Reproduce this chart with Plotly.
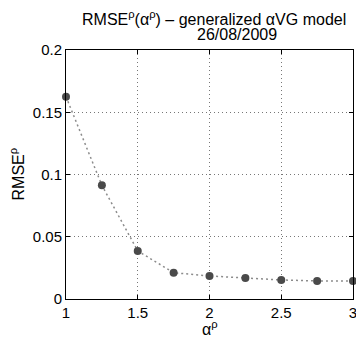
import plotly.graph_objects as go

alpha = [1.0, 1.25, 1.5, 1.75, 2.0, 2.25, 2.5, 2.75, 3.0]
rmse = [0.1625, 0.0913, 0.0386, 0.0211, 0.0185, 0.0169, 0.0153, 0.0145, 0.0144]
xticks = [1, 1.5, 2, 2.5, 3]
xtick_text = ["1", "1.5", "2", "2.5", "3"]
yticks = [0, 0.05, 0.1, 0.15, 0.2]
ytick_text = ["0", "0.05", "0.1", "0.15", "0.2"]
title_line1 = "RMSE<sup>ρ</sup>(α<sup>ρ</sup>) – generalized αVG model"
title_line2 = "26/08/2009"
xlabel = "α<sup>ρ</sup>"
ylabel = "RMSE<sup>ρ</sup>"

fig = go.Figure()
fig.add_trace(go.Scatter(
    x=alpha, y=rmse, mode="lines+markers",
    line=dict(color="#8c8c8c", width=1.5, dash="2px,3px"),
    marker=dict(color="#4a4a4a", size=8),
    showlegend=False, cliponaxis=False,
))

font = "Liberation Sans, Arial, sans-serif"
axis_common = dict(
    showline=True, linecolor="black", linewidth=1, mirror="ticks",
    ticks="inside", ticklen=4, tickcolor="black",
    showgrid=True, gridcolor="#777777", gridwidth=1, griddash="1px,3px",
    zeroline=False, tickfont=dict(family=font, size=15, color="black"),
)
fig.update_xaxes(range=[1, 3], tickvals=xticks, ticktext=xtick_text, **axis_common)
fig.update_yaxes(range=[0, 0.2], tickvals=yticks, ticktext=ytick_text, **axis_common)

tfont = dict(family=font, size=16, color="black")
fig.add_annotation(text=title_line1, xref="paper", yref="paper", x=0.514, y=1,
                   xanchor="center", yanchor="middle", yshift=32, showarrow=False, font=tfont)
fig.add_annotation(text=title_line2, xref="paper", yref="paper", x=0.5945, y=1,
                   xanchor="center", yanchor="middle", yshift=16, showarrow=False, font=tfont)
fig.add_annotation(text=ylabel, xref="paper", yref="paper", x=0, y=0.5, textangle=-90,
                   xanchor="center", yanchor="middle", xshift=-49, showarrow=False, font=tfont)
fig.add_annotation(text=xlabel, xref="paper", yref="paper", x=0.5, y=0,
                   xanchor="center", yanchor="middle", yshift=-29, showarrow=False, font=tfont)

fig.update_layout(
    width=356, height=335,
    margin=dict(l=58, r=7, t=42, b=44),
    paper_bgcolor="white", plot_bgcolor="white",
)
fig.write_html("out.html")
